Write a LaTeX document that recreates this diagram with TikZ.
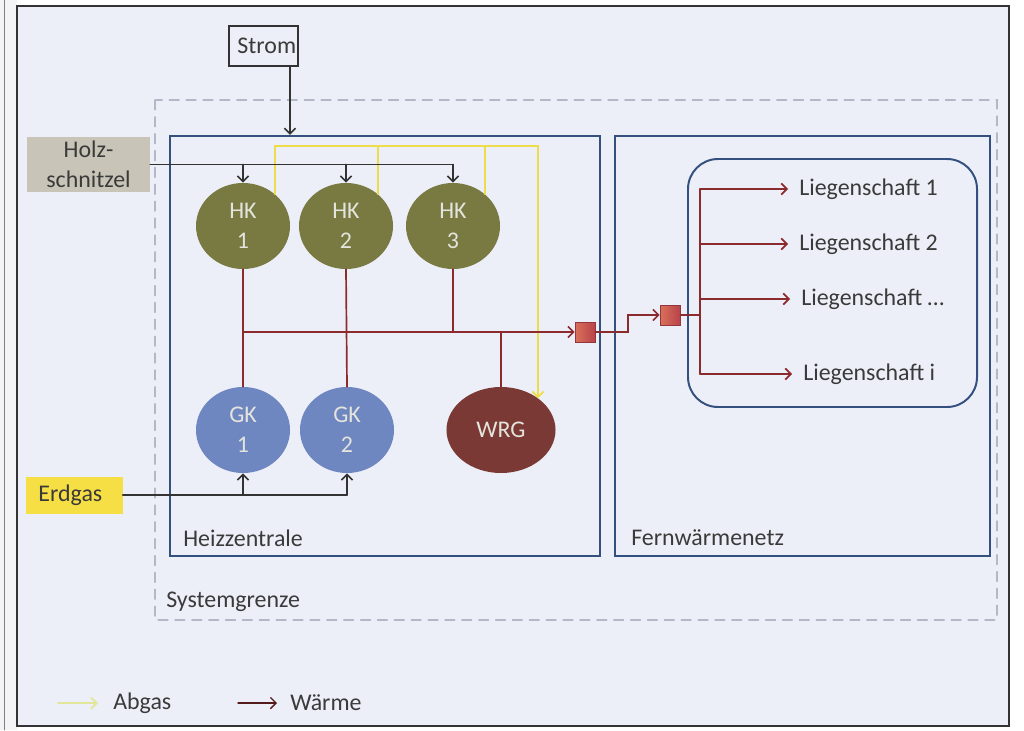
\documentclass[tikz,border=0pt]{standalone}
\usepackage{fontspec}
\setmainfont{Carlito}
\usepackage{tikz}
\usetikzlibrary{arrows.meta, calc, shapes.geometric}
\definecolor{bgLila}{HTML}{EDEFF8}
\definecolor{randGrau}{HTML}{F4F4F7}
\definecolor{textGrau}{HTML}{3A3A3A}
\definecolor{kesselText}{HTML}{E4E4DC}
\definecolor{hkOliv}{HTML}{787A42}
\definecolor{gkBlau}{HTML}{6F87C1}
\definecolor{wrgBraun}{HTML}{7A3934}
\definecolor{boxBlau}{HTML}{34507F}
\definecolor{waermeRot}{HTML}{8C2B2E}
\definecolor{abgasGelb}{HTML}{EEDD4A}
\definecolor{legGelb}{HTML}{E2E69A}
\definecolor{holzGrau}{HTML}{C8C5B8}
\definecolor{erdgasGelb}{HTML}{F5DF45}
\definecolor{quadRot}{HTML}{B9434A}
\definecolor{quadHell}{HTML}{D9705A}
\definecolor{systemGrau}{HTML}{B4B8C6}
\definecolor{linieGrau}{HTML}{333333}

\begin{document}
\begin{tikzpicture}[x=0.025cm, y=-0.025cm, line cap=round,
		every node/.style={font=\fontsize{17}{21}\selectfont, text=textGrau},
		box/.style={draw=boxBlau, line width=1.4pt},
		kessel/.style={ellipse, minimum width=2.35cm, minimum height=2.15cm, inner sep=0pt, align=center, text=kesselText},
		quadrat/.style={minimum size=0.5cm, inner sep=0pt, left color=quadHell, right color=quadRot, draw=quadRot!80!black, line width=0.4pt},
		zufuhr/.style={draw=linieGrau, line width=1.2pt},
		waerme/.style={draw=waermeRot, line width=1.2pt},
		abgas/.style={draw=abgasGelb, line width=1.3pt},
		pfeil/.style={-{Straight Barb[length=4pt, width=8pt]}},
		ziel/.style={anchor=west, inner xsep=0.275cm}
	]

	% Hintergrund und Rahmen
	\fill[white] (0,0) rectangle (1024,730);
	\useasboundingbox (0,0) rectangle (1024,730);
	\fill[randGrau] (0,0) rectangle (17,730);
	\fill[bgLila] (17,6) rectangle (1009,726);
	\draw[gray, line width=0.6pt] (4,0) -- (4,730);
	\draw[linieGrau, line width=1.8pt] (17,6) rectangle (1009,726);

	% Systemgrenze
	\draw[systemGrau, line width=0.9pt, dash pattern=on 7pt off 5pt] (155,100) rectangle (997,620);
	\node[anchor=west, inner sep=0pt] (sysgrenze) at (166,602) {Systemgrenze};

	% Bereiche
	\node[box, minimum width=10.75cm, minimum height=10.5cm, inner sep=0pt] (hz) at (385,346) {};
	\node[box, minimum width=9.375cm, minimum height=10.5cm, inner sep=0pt] (fw) at (802.5,346) {};
	\node[anchor=west, inner sep=0pt] (hzText) at (183,538) {Heizzentrale};
	\node[anchor=west, inner sep=0pt] (fwText) at (631,538) {Fernwärmenetz};
	\draw[box, rounded corners=0.75cm] (688,159) rectangle (977,407);

	% Zufuhr
	\node[draw=linieGrau, line width=1.2pt, fill=bgLila, minimum width=1.725cm, minimum height=1cm, text width=1.3cm, inner xsep=0.2cm] (strom) at (263.5,46) {Strom};
	\node[fill=holzGrau, minimum width=3.075cm, minimum height=1.375cm, inner sep=0pt, align=center] (holz) at (88.5,164.5) {Holz-\\schnitzel};
	\node[fill=erdgasGelb, minimum width=2.375cm, minimum height=0.925cm, text width=1.8cm, inner xsep=0.3cm] (erdgas) at (74.5,495) {Erdgas};

	% Kessel
	\foreach \n/\x in {1/243, 2/346, 3/453}
		\node[kessel, fill=hkOliv] (hk\n) at (\x,226) {HK\\\n};
	\foreach \n/\x in {1/243, 2/347}
		\node[kessel, fill=gkBlau] (gk\n) at (\x,430) {GK\\\n};
	\node[kessel, fill=wrgBraun, minimum width=2.725cm] (wrg) at (501,430) {WRG};

	% Abgas
	\coordinate (abgasEcke) at (538,146);
	\draw[abgas, pfeil] (hk1.45) |- (abgasEcke) -- (abgasEcke |- wrg.40);
	\draw[abgas] (hk2.45) -- (hk2.45 |- abgasEcke);
	\draw[abgas] (hk3.45) -- (hk3.45 |- abgasEcke);

	% Strom, Holz, Erdgas
	\coordinate (stromIn) at (290,0);
	\draw[zufuhr, pfeil] (strom.south -| stromIn) -- (hz.north -| stromIn);
	\draw[zufuhr] (holz.east) -- (holz.east -| hk3.north);
	\foreach \n in {1,2,3}
		\draw[zufuhr, pfeil] (holz.east -| hk\n.north) -- (hk\n.north);
	\draw[zufuhr] (erdgas.east) -- (erdgas.east -| gk2.south);
	\foreach \n in {1,2}
		\draw[zufuhr, pfeil] (erdgas.east -| gk\n.south) -- (gk\n.south);

	% Waerme
	\node[quadrat] (sq1) at (585,332) {};
	\node[quadrat] (sq2) at (670,315) {};
	\draw[waerme] (hk1.south) -- (gk1.north);
	\draw[waerme] (hk2.south) -- (gk2.north);
	\draw[waerme] (hk3.south) -- (hk3.south |- sq1.west);
	\draw[waerme] (wrg.north) -- (wrg.north |- sq1.west);
	\draw[waerme, pfeil] (hk1.south |- sq1.west) -- (sq1.west);
	\coordinate (knick) at (628,0);
	\draw[waerme, pfeil] (sq1.east) -- (sq1.east -| knick) |- (sq2.west);

	\node[ziel] (l1) at (788,189) {Liegenschaft 1};
	\node[ziel] (l2) at (788,244) {Liegenschaft 2};
	\node[ziel] (l3) at (790,299) {Liegenschaft \dots};
	\node[ziel] (li) at (792,374) {Liegenschaft i};
	\coordinate (stamm) at (700,315);
	\draw[waerme] (sq2.east) -- (stamm);
	\draw[waerme] (stamm |- l1.west) -- (stamm |- li.west);
	\foreach \l in {l1, l2, l3, li}
		\draw[waerme, pfeil] (stamm |- \l.west) -- (\l.west);

	% Legende
	\node[anchor=west, inner xsep=0.375cm] (legAbgas) at (98,703) {Abgas};
	\node[anchor=west, inner xsep=0.325cm] (legWaerme) at (277,703) {Wärme};
	\coordinate (legA) at (58,703);
	\coordinate (legW) at (238,703);
	\draw[legGelb, line width=1.3pt, pfeil] (legA) -- (legAbgas.west);
	\draw[waermeRot!60!black, line width=1pt, pfeil] (legW) -- (legWaerme.west);

\end{tikzpicture}
\end{document}
